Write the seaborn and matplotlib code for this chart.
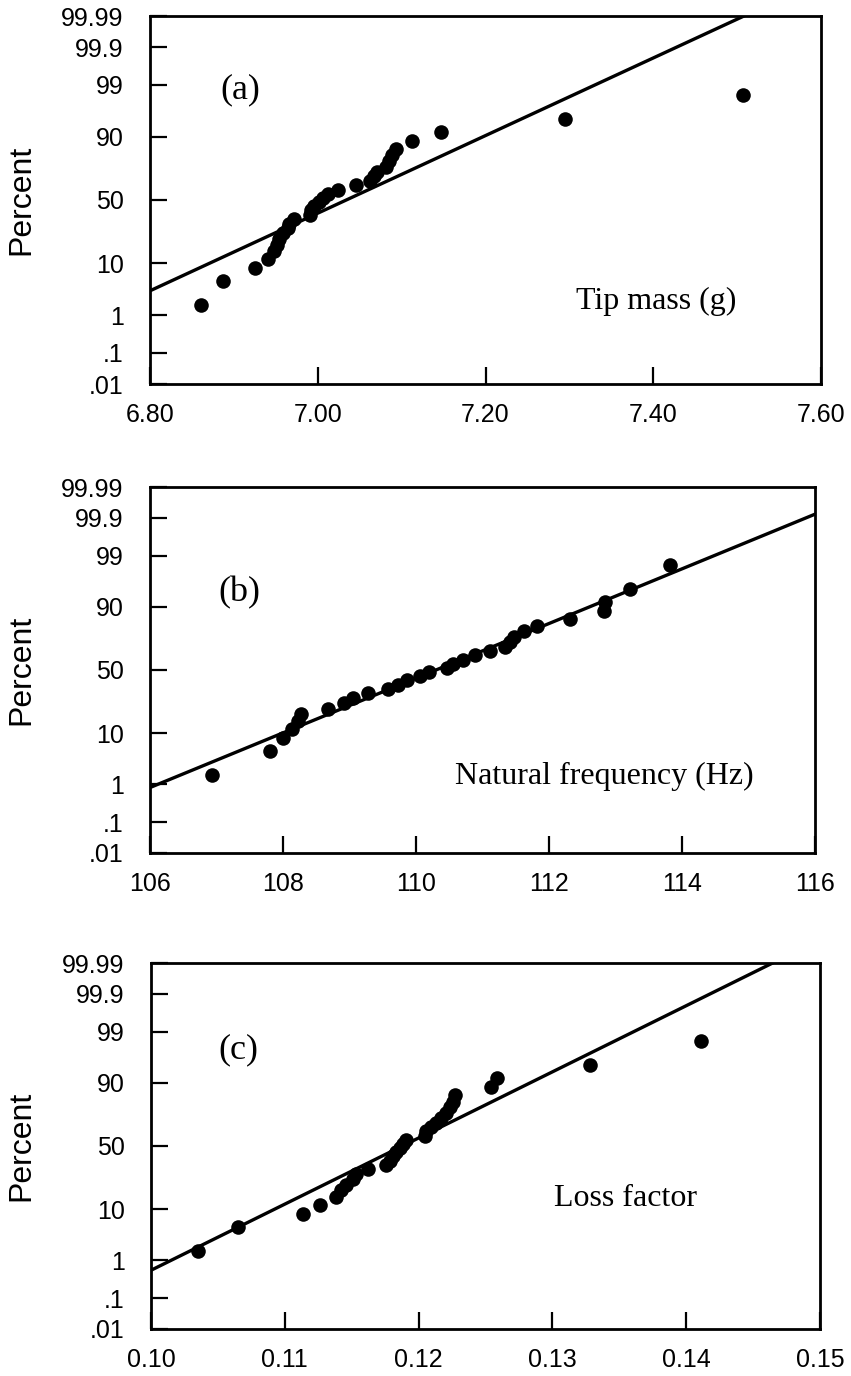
import numpy as np
import matplotlib
matplotlib.use("Agg")
import matplotlib.pyplot as plt
import seaborn as sns
from statistics import NormalDist

# ---------------- data ----------------
PERCENT = [1.67, 5.0, 8.33, 11.67, 15.0, 18.33, 21.67, 25.0, 28.33, 31.67,
           35.0, 38.33, 41.67, 45.0, 48.33, 51.67, 55.0, 58.33, 61.67, 65.0,
           68.33, 71.67, 75.0, 78.33, 81.67, 85.0, 88.33, 91.67, 95.0, 98.33]

TIP_MASS = [6.861, 6.887, 6.925, 6.941, 6.948, 6.951, 6.954, 6.958, 6.964, 6.966,
            6.972, 6.991, 6.992, 6.996, 7.002, 7.006, 7.012, 7.024, 7.046, 7.062,
            7.067, 7.071, 7.081, 7.085, 7.089, 7.093, 7.112, 7.147, 7.295, 7.507]

NAT_FREQ = [106.93, 107.81, 108.00, 108.13, 108.22, 108.27, 108.68, 108.91, 109.06, 109.28,
            109.58, 109.73, 109.86, 110.06, 110.19, 110.46, 110.56, 110.71, 110.89, 111.11,
            111.34, 111.42, 111.47, 111.62, 111.82, 112.31, 112.82, 112.84, 113.22, 113.82]

LOSS_FACTOR = [0.10353, 0.10647, 0.11137, 0.11261, 0.11386, 0.11423, 0.11460, 0.11510, 0.11535, 0.11622,
               0.11759, 0.11784, 0.11808, 0.11833, 0.11858, 0.11883, 0.11908, 0.12045, 0.12057, 0.12095,
               0.12132, 0.12169, 0.12207, 0.12231, 0.12256, 0.12269, 0.12543, 0.12587, 0.13284, 0.14114]

# fitted normal lines (mean, std)
FIT_MU = [7.034, 110.3, 0.11879]
FIT_SIGMA = [0.1275, 1.80, 0.00744]

PANEL_TAGS = ["(a)", "(b)", "(c)"]
PANEL_NAMES = ["Tip mass (g)", "Natural frequency (Hz)", "Loss factor"]

X_TICKS = [[6.80, 7.00, 7.20, 7.40, 7.60],
           [106, 108, 110, 112, 114, 116],
           [0.10, 0.11, 0.12, 0.13, 0.14, 0.15]]
X_TICK_LABELS = [["6.80", "7.00", "7.20", "7.40", "7.60"],
                 ["106", "108", "110", "112", "114", "116"],
                 ["0.10", "0.11", "0.12", "0.13", "0.14", "0.15"]]

Y_TICKS = [0.01, 0.1, 1, 10, 50, 90, 99, 99.9, 99.99]
Y_TICK_LABELS = [".01", ".1", "1", "10", "50", "90", "99", "99.9", "99.99"]

# ---------------- normal-probability scale ----------------
_nd = NormalDist()
_inv_cdf = np.vectorize(_nd.inv_cdf, otypes=[float])
_cdf = np.vectorize(_nd.cdf, otypes=[float])


def fwd(p):
    p = np.clip(np.asarray(p, dtype=float) / 100.0, 1e-12, 1 - 1e-12)
    return _inv_cdf(p)


def inv(z):
    z = np.asarray(z, dtype=float)
    return 100.0 * _cdf(z)


# ---------------- figure ----------------
sns.set_style("white")
plt.rcParams["font.family"] = ["Liberation Sans", "DejaVu Sans"]

W, H = 851, 1376
fig = plt.figure(figsize=(W / 100, H / 100), dpi=100)

# axes rectangles in pixels: left, right, top, bottom
rects_px = [(150, 821, 16, 384), (150, 815, 487, 853), (151, 820, 963, 1329)]

tag_pos = [(0.135, 0.80), (0.135, 0.71), (0.131, 0.764)]
name_pos = [(0.755, 0.223), (0.683, 0.208), (0.709, 0.356)]

datasets = [TIP_MASS, NAT_FREQ, LOSS_FACTOR]

for k in range(3):
    l, r, t, b = rects_px[k]
    ax = fig.add_axes([l / W, 1 - b / H, (r - l) / W, (b - t) / H])
    xs = X_TICKS[k]
    xmin, xmax = xs[0], xs[-1]

    # fitted line
    xl = np.linspace(xmin, xmax, 200)
    pl = inv((xl - FIT_MU[k]) / FIT_SIGMA[k])
    sns.lineplot(x=xl, y=pl, ax=ax, color="black", linewidth=2.4,
                 errorbar=None, sort=True)

    # data points
    sns.scatterplot(x=datasets[k], y=PERCENT, ax=ax, color="black",
                    s=110, linewidth=0, zorder=3)

    ax.set_yscale("function", functions=(fwd, inv))
    ax.set_ylim(0.01, 99.99)
    ax.set_xlim(xmin, xmax)

    ax.set_yticks(Y_TICKS)
    ax.set_yticklabels(Y_TICK_LABELS)
    ax.set_xticks(xs)
    ax.set_xticklabels(X_TICK_LABELS[k])
    ax.minorticks_off()

    ax.tick_params(axis="both", which="major", bottom=True, left=True,
                   top=False, right=False, direction="in", length=12,
                   width=1.6, color="black", labelsize=18, labelcolor="black")
    ax.tick_params(axis="y", pad=19)
    ax.tick_params(axis="x", pad=14)

    for sp in ax.spines.values():
        sp.set_visible(True)
        sp.set_color("black")
        sp.set_linewidth(2.0)

    ax.set_xlabel("")
    ax.set_ylabel("Percent", fontsize=23, color="black")
    ax.yaxis.set_label_coords((36 - l) / (r - l), 0.5)

    ax.text(tag_pos[k][0], tag_pos[k][1], PANEL_TAGS[k], transform=ax.transAxes,
            ha="center", va="center", fontsize=26, family="Liberation Serif",
            color="black")
    ax.text(name_pos[k][0], name_pos[k][1], PANEL_NAMES[k], transform=ax.transAxes,
            ha="center", va="center", fontsize=23, family="Liberation Serif",
            color="black")

fig.savefig("out.png", dpi=100, facecolor="white")
